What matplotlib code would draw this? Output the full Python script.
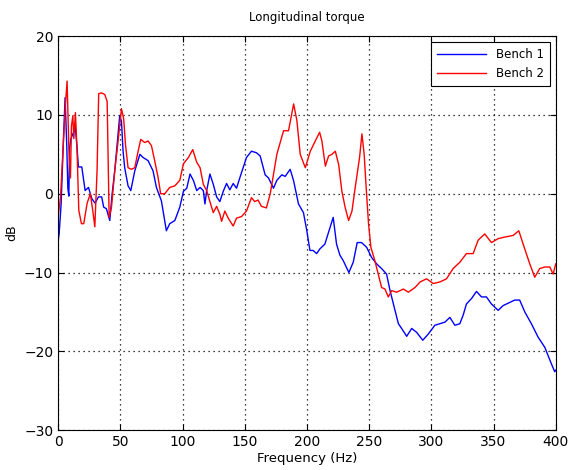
import matplotlib
matplotlib.use("Agg")
import matplotlib.pyplot as plt

title = "Longitudinal torque"
xlabel = "Frequency (Hz)"
ylabel = "dB"
series_names = ["Bench 1", "Bench 2"]
xticks = [0, 50, 100, 150, 200, 250, 300, 350, 400]
yticks = [-30, -20, -10, 0, 10, 20]

bench1_f = [0, 0.8, 2.4, 4.3, 5.6, 6.9, 7.8, 8.6, 9.2, 10.3, 12.4, 13.7, 15, 16.3, 19, 21.7, 24.4,
            27, 29.7, 32.4, 35, 36.6, 38.8, 41.5, 43.4, 45.5, 48.2, 49.5, 50.9, 52.2, 53.5,
            56.2, 58.4, 61.6, 65.7, 68.3, 72.3, 76.3, 79, 83, 87, 89.7, 93.8, 97.8, 100.7,
            103.4, 106, 108.7, 111.4, 114.1, 116.7, 118, 119.4, 122, 124.7, 127.4, 130, 132.7,
            135.4, 138, 140.7, 143.4, 146, 148.7, 151.4, 155.4, 159.4, 162.4, 166.4, 169.1,
            173.1, 175.8, 179.8, 182.5, 186.5, 189.2, 193.2, 197.2, 199.9, 202.4, 205, 207.8,
            210.4, 214.4, 218.5, 221.1, 223.8, 226.5, 229.2, 233.7, 237.2, 240.4, 243.9, 248,
            252, 256, 260, 264, 266.8, 270.8, 273.5, 276.1, 280.2, 284.2, 288.2, 293.1, 297.6,
            302.8, 306.8, 310.9, 314.9, 318.9, 322.9, 325.6, 328.2, 332.3, 336.3, 340.3, 344.3,
            348.3, 353.7, 357.7, 363, 367, 371, 375.1, 380.4, 385.8, 391.2, 396.5, 399.2, 400]
bench1_db = [-6, -5.1, -1.3, 7.1, 12.2, 6.3, 0.7, -0.3, 5.8, 7, 7.8, 8.6, 6.3, 3.4, 3.4, 0.4, 0.8,
             -0.6, -1.2, -0.4, -0.4, -1.7, -1.9, -3.4, 0, 2.9, 7.6, 9.9, 9.2, 5.4, 3.3,
             1, 0.4, 2.9, 5, 4.6, 4.2, 2.9, 0.8, -0.9, -4.7, -3.8, -3.4, -1.7, 0.3,
             0.7, 2.5, 1.7, 0.4, 0.8, 0.4, -1.3, 0.4, 2.5, 1.2, -0.4, -1, 0.3,
             1.3, 0.5, 1.3, 0.7, 2, 3.3, 4.6, 5.4, 5.2, 4.8, 2.4, 2,
             0.7, 1.7, 2.4, 2.2, 3.1, 1.7, -1.3, -2.4, -4.7, -7.2, -7.2, -7.6,
             -7, -6.4, -4.3, -3, -6.4, -7.8, -8.5, -10, -8.7, -6.2, -6.2, -6.8,
             -8.1, -8.9, -9.5, -10.2, -12.3, -14.8, -16.5, -17.1, -18.1, -17.1, -17.6, -18.6, -17.8,
             -16.7, -16.5, -16.3, -15.7, -16.7, -16.5, -15.4, -14, -13.3, -12.4, -13.1, -13.1,
             -14, -14.8, -14.2, -13.8, -13.5, -13.5, -15, -16.5, -18.2, -19.5, -21.6, -22.6, -22.4]

bench2_f = [0, 0.5, 1.9, 3.7, 5.9, 7.2, 8.6, 9.9, 10.7, 11.8, 12.6, 13.9, 15.3, 16.6, 18.7, 20.6,
            23.3, 25.9, 27.8, 29.5, 31.3, 32.6, 34.8, 37.5, 39.4, 40.2, 41, 42.9, 45.5, 48.2,
            50.9, 52.7, 54.1, 56.2, 58.9, 61.6, 64.3, 66.4, 69.6, 72.3, 75, 77.6, 80.3, 82.4,
            85.7, 89.7, 93.8, 97.8, 100.7, 104.7, 108.2, 111.4, 114.1, 116.7, 119.4, 122, 124.7,
            127.4, 130, 131.4, 134, 136.7, 140.7, 143.4, 147.4, 151.4, 155.4, 158, 160.7, 163.4,
            167.4, 170.5, 175.8, 181.2, 185.2, 189.3, 191.9, 194.6, 198.7, 202.7, 206.7,
            210.2, 212, 214.8, 217.4, 220.1, 222.8, 225.5, 228.1, 230.8, 233.5, 236.2, 238.8,
            242.3, 244.2, 246, 247.6, 249.5, 251.4, 254.6, 257.3, 260, 262.7, 265.4, 268.1,
            272.1, 277.5, 281.5, 286.9, 290.9, 296.2, 301.5, 306.8, 312.2, 317.5, 322.9, 328.2,
            333.6, 337.6, 342.9, 348.3, 353.7, 359, 365.7, 370.3, 373.8, 379.1, 383.1, 387.1,
            391.2, 395.2, 397.9, 400]
bench2_db = [-3, -2.2, -0.5, 5, 11.4, 14.3, 5.8, 2, 8.6, 9.9, 7, 10.3, 5, -2.1, -3.8, -3.8,
             -1.2, 0, -2.1, -4.2, 3, 12.7, 12.8, 12.6, 11.7, 4.2, -3, -1.7, 2.9, 6.7,
             10.8, 9.5, 6.3, 3.3, 3.1, 3.3, 5.4, 6.9, 6.5, 6.7, 6.1, 4.2, 2.1, 0,
             0, 0.8, 1, 1.7, 3.8, 4.6, 5.6, 4, 3.3, 1.2, 0.4, -1, -2.4,
             -1.6, -2.6, -3.5, -2.2, -3.1, -4.1, -3.1, -2.9, -2.2, -0.5, -1, -0.8, -1.6,
             -1.8, 0, 5, 8, 8, 11.4, 9.3, 5, 3.3, 5.4, 6.7,
             7.8, 6.7, 3.5, 4.8, 5, 5.4, 3.7, 0.3, -1.8, -3.4, -2.2, 0.8,
             4.6, 7.6, 5, 0.8, -3.8, -6.8, -8.5, -10.2, -11.9, -12.1, -13.1, -12.3,
             -12.5, -12.1, -12.5, -11.9, -11.2, -10.8, -11.4, -11.2, -10.8, -9.5, -8.7, -7.6,
             -7.6, -5.9, -5.1, -6.2, -5.7, -5.5, -5.3, -4.7, -6.4, -8.9, -10.6, -9.5,
             -9.3, -9.3, -10.2, -8.9]

plt.rcParams['font.family'] = ['DejaVu Sans']
fig = plt.figure(figsize=(5.7, 4.7), dpi=100)
ax = fig.add_axes([0.102, 0.085, 0.873, 0.838])

ax.plot(bench1_f, bench1_db, color='#0000ff', lw=1.0, label=series_names[0])
ax.plot(bench2_f, bench2_db, color='#ff0000', lw=1.0, label=series_names[1])

ax.set_xlim(0, 400)
ax.set_ylim(-30, 20)
ax.set_xticks(xticks)
ax.set_yticks(yticks)
ax.tick_params(direction='in', top=True, right=True, labelsize=10, length=4)
ax.grid(True, linestyle=(0, (1, 3)), color='black', linewidth=0.9)
ax.set_title(title, fontsize=8.5, pad=11)
ax.set_xlabel(xlabel, fontsize=9.5, labelpad=2)
ax.set_ylabel(ylabel, fontsize=9, labelpad=4)
for s in ax.spines.values():
    s.set_linewidth(0.8)

leg = ax.legend(loc='upper right', fontsize=8.5, fancybox=False, framealpha=1,
                edgecolor='black', handlelength=4.2, borderpad=0.5, labelspacing=0.5)
leg.get_frame().set_linewidth(0.8)

fig.savefig("out.png", dpi=100)
